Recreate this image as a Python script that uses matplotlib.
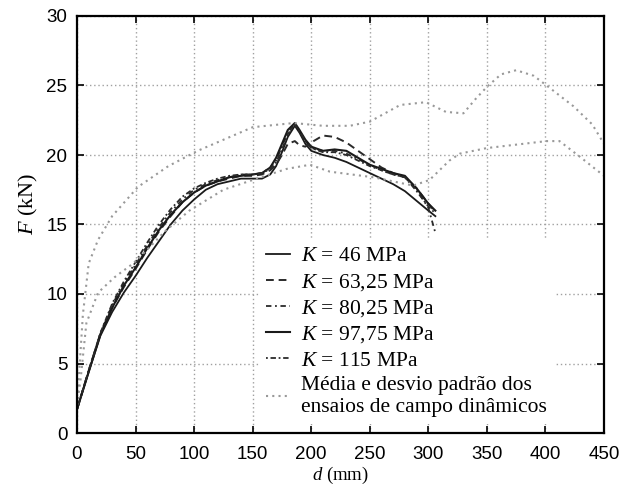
import numpy as np
import matplotlib
matplotlib.use('Agg')
import matplotlib.pyplot as plt

plt.rcParams['font.family'] = ['Liberation Sans', 'DejaVu Sans']
plt.rcParams['mathtext.fontset'] = 'custom'
plt.rcParams['mathtext.rm'] = 'Liberation Serif'
plt.rcParams['mathtext.it'] = 'Liberation Serif:italic'

# simulated curves, d (mm) vs F (kN)
d = [0, 10, 20, 30, 40, 50, 60, 70, 80, 90, 100, 110, 120, 130, 140, 150, 158, 165, 170,
     175, 180, 186, 190, 195, 200, 210, 220, 230, 240, 250, 260, 270, 280, 290, 300, 306]

f_k46 = [1.7, 4.4, 7.0, 8.7, 10.1, 11.3, 12.6, 13.8, 15.0, 16.0, 16.8, 17.5, 17.9, 18.1, 18.3, 18.3, 18.3, 18.6, 19.2,
         20.2, 21.3, 22.1, 21.6, 20.8, 20.3, 20.0, 19.8, 19.5, 19.1, 18.7, 18.3, 17.9, 17.4, 16.7, 16.0, 15.6]
f_k63 = [1.7, 4.5, 7.1, 9.0, 10.5, 11.8, 13.2, 14.5, 15.6, 16.6, 17.3, 17.8, 18.1, 18.3, 18.5, 18.5, 18.6, 18.9, 19.3,
         20.0, 20.8, 21.0, 20.7, 20.6, 20.9, 21.4, 21.3, 20.9, 20.3, 19.7, 19.1, 18.7, 18.4, 17.6, 16.5, 15.9]
f_k80 = [1.7, 4.5, 7.2, 9.2, 10.8, 12.1, 13.5, 14.8, 15.9, 16.8, 17.5, 17.9, 18.2, 18.4, 18.6, 18.6, 18.7, 19.1, 19.6,
         20.6, 21.6, 22.2, 21.7, 21.0, 20.5, 20.3, 20.3, 20.1, 19.7, 19.3, 18.9, 18.6, 18.4, 17.5, 16.2, 14.4]
f_k97 = [1.7, 4.4, 7.1, 9.0, 10.6, 11.9, 13.3, 14.6, 15.7, 16.6, 17.3, 17.8, 18.1, 18.4, 18.5, 18.6, 18.7, 19.1, 19.8,
         20.8, 21.8, 22.3, 21.8, 21.1, 20.6, 20.3, 20.4, 20.3, 19.8, 19.3, 19.0, 18.7, 18.5, 17.6, 16.5, 16.0]
f_k115 = [1.7, 4.5, 7.2, 9.3, 10.9, 12.3, 13.7, 15.0, 16.1, 17.0, 17.6, 18.0, 18.3, 18.5, 18.6, 18.6, 18.7, 19.0, 19.5,
          20.4, 21.5, 22.2, 21.7, 21.0, 20.5, 20.2, 20.2, 20.0, 19.6, 19.2, 18.9, 18.6, 18.4, 17.4, 16.3, 15.8]

# field tests: mean + std and mean - std
d_sup = [0, 2, 5, 10, 18, 30, 52, 78, 103, 150, 185, 210, 233, 250, 276, 298, 315, 330, 340, 350, 362, 375,
         390, 401, 424, 440, 450]
f_sup = [2.0, 4.5, 8.5, 12.2, 13.9, 15.6, 17.7, 19.2, 20.3, 22.0, 22.3, 22.1, 22.1, 22.4, 23.6, 23.8, 23.1, 23.0,
         24.0, 24.9, 25.8, 26.1, 25.7, 25.0, 23.5, 22.2, 20.8]
d_inf = [0, 3, 8, 18, 32, 48, 60, 75, 96, 125, 150, 179, 199, 216, 253, 270, 287, 301, 318, 327, 350, 401,
         412, 429, 447, 450]
f_inf = [2.0, 3.8, 7.9, 10.1, 11.2, 12.2, 13.2, 14.5, 16.0, 17.5, 18.2, 19.0, 19.3, 18.8, 18.4, 18.1, 17.8, 18.2,
         19.6, 20.1, 20.5, 21.0, 21.0, 19.9, 18.7, 18.5]

labels = ['$K$ = 46 MPa', '$K$ = 63,25 MPa', '$K$ = 80,25 MPa', '$K$ = 97,75 MPa', '$K$ = 115 MPa',
          'Média e desvio padrão dos\nensaios de campo dinâmicos']

fig = plt.figure(figsize=(6.22, 4.86), dpi=100)
ax = fig.add_axes([77 / 622, 53 / 486, 527 / 622, 417 / 486])

ax.plot(d, f_k46, color='#1a1a1a', lw=1.3, ls='-', label=labels[0])
ax.plot(d, f_k63, color='#2a2a2a', lw=1.4, ls=(0, (4, 2.5)), label=labels[1])
ax.plot(d, f_k80, color='#2a2a2a', lw=1.3, ls=(0, (3, 2, 1, 2)), label=labels[2])
ax.plot(d, f_k97, color='#1a1a1a', lw=1.5, ls='-', label=labels[3])
ax.plot(d, f_k115, color='#2a2a2a', lw=1.3, ls=(0, (1, 1.5, 3, 1.5)), label=labels[4])
ax.plot(d_sup, f_sup, color='#999999', lw=1.5, ls=(0, (1, 2)), label=labels[5])
ax.plot(d_inf, f_inf, color='#999999', lw=1.5, ls=(0, (1, 2)))

ax.set_xlim(0, 450)
ax.set_ylim(0, 30)
ax.set_xticks(np.arange(0, 451, 50))
ax.set_yticks(np.arange(0, 31, 5))
ax.grid(True, color='#a0a0a0', ls=(0, (1, 2)), lw=1.0)
ax.set_axisbelow(True)
ax.tick_params(direction='in', top=True, right=True, length=5, width=1.2, labelsize=13.5, pad=7)
ax.tick_params(axis='x', pad=9)
for s in ax.spines.values():
    s.set_linewidth(1.6)

ax.set_xlabel('$d$ (mm)', fontsize=13.5, family='Liberation Serif', labelpad=2)
ax.set_ylabel('$F$ (kN)', fontsize=16, family='Liberation Serif')
ax.yaxis.set_label_coords(-0.07, 0.55)

leg = ax.legend(loc='lower left', bbox_to_anchor=((250 - 77) / 527, 0.0), borderaxespad=0.4,
                prop={'family': 'Liberation Serif', 'size': 15.5}, frameon=True, fancybox=False,
                framealpha=1, edgecolor='none', handlelength=1.1, handletextpad=0.5,
                labelspacing=0.25, borderpad=0.35)

fig.savefig('out.png', dpi=100)
